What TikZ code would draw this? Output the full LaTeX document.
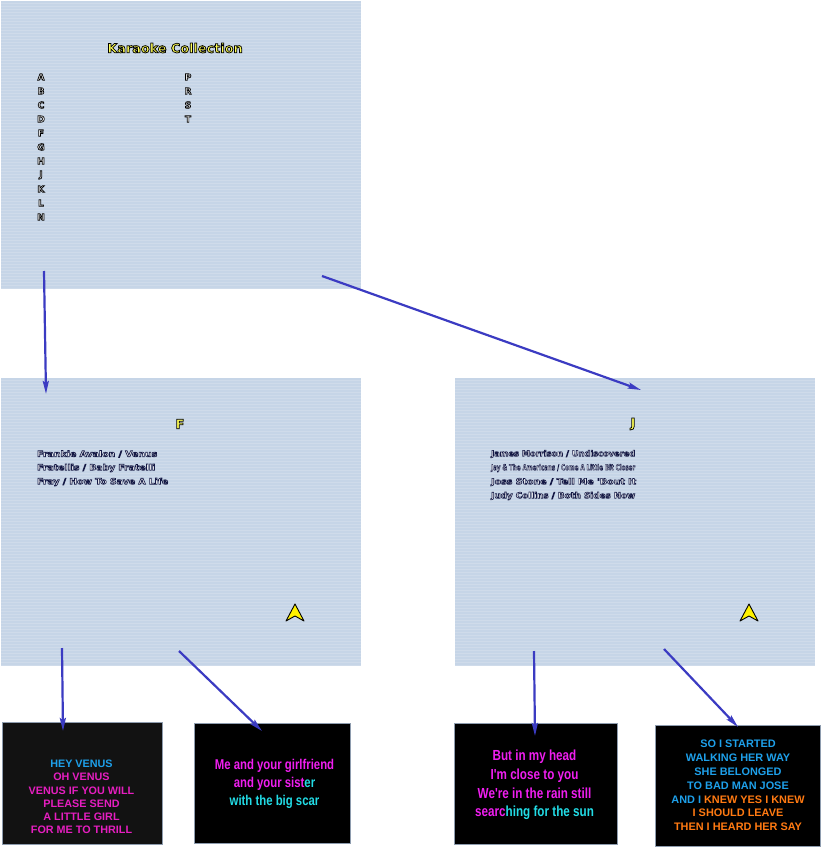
\documentclass[tikz,border=0pt]{standalone}
\usepackage{fontspec}
\usepackage{graphicx}
\usetikzlibrary{arrows.meta}
\newfontfamily\verd{DejaVu Sans}
\newfontfamily\arl{Liberation Sans}
\newfontfamily\narr{Liberation Sans}[FakeStretch=0.8]
\definecolor{panelc}{HTML}{C6D5E7}
\definecolor{arrowc}{HTML}{3B3BC2}
\definecolor{ttlyel}{HTML}{FFFF55}
\definecolor{lyblue}{HTML}{1EA0EA}
\definecolor{lymag}{HTML}{E61EC0}
\definecolor{lymagb}{HTML}{F01EF0}
\definecolor{lycyan}{HTML}{22DCE6}
\definecolor{lyorange}{HTML}{FF7A12}
\definecolor{boxedge}{HTML}{8E9CAE}
\definecolor{chevy}{HTML}{FFF200}
% outlined text: #1 stroke rgb, #2 stroke width, #3 fill colour, #4 text
\newcommand\outl[4]{{\color{#3}\special{pdf:literal direct 2 Tr #2 w #1 RG}#4\special{pdf:literal direct 0 Tr}}}
\newcommand\fitw[2]{\resizebox{#1}{\height}{#2}}
\begin{document}
\begin{tikzpicture}[x=1pt,y=-1pt,
  panelbox/.style={fill=panelc, inner sep=0pt, anchor=north west, minimum width=360pt, minimum height=288pt},
  lyrbox/.style={fill=black, draw=boxedge, line width=1.4pt, inner sep=0pt, anchor=north west},
  conn/.style={draw=arrowc, line width=2.2pt, -{Stealth[length=13pt,width=6pt,inset=2pt]}},
  ttl/.style={inner sep=0pt, font=\verd\bfseries\fontsize{12.8}{14}\selectfont},
  letter/.style={inner sep=0pt, font=\verd\bfseries\fontsize{9}{11}\selectfont},
  song/.style={inner sep=0pt, anchor=west, font=\verd\bfseries\fontsize{8.2}{9}\selectfont},
  lyrA/.style={inner sep=0pt, align=center, font=\arl\bfseries\fontsize{10.8}{13.3}\selectfont},
  lyrB/.style={inner sep=0pt, align=center, font=\narr\bfseries\fontsize{14.2}{18}\selectfont},
  lyrC/.style={inner sep=0pt, align=center, font=\narr\bfseries\fontsize{14.6}{18.7}\selectfont},
  lyrD/.style={inner sep=0pt, align=center, font=\arl\bfseries\fontsize{10.9}{13.8}\selectfont},
  chev/.style={fill=chevy, draw=black, line width=0.9pt, line join=round}
]
\useasboundingbox (0,0) rectangle (821,848);
\fill[white] (0,0) rectangle (821,848);

% panels
\node[panelbox] (top) at (1,1) {};
\node[panelbox] (pf) at (1,378) {};
\node[panelbox] (pj) at (455,378) {};
\foreach \px/\py in {1/1,1/378,455/378}{
  \foreach \k in {2,5,...,287}{
    \draw[white, opacity=0.16, line width=0.6pt] (\px,\py+\k) -- (\px+360,\py+\k);
  }
}

% lyric boxes
\node[lyrbox, fill=black!93, minimum width=160pt, minimum height=122pt] (b1) at (1.5,722) {};
\node[lyrbox, minimum width=156pt, minimum height=120pt] (b2) at (194,723) {};
\node[lyrbox, minimum width=163pt, minimum height=121pt] (b3) at (453.5,723) {};
\node[lyrbox, minimum width=165pt, minimum height=121pt] (b4) at (654.5,725) {};

% top panel text
\node[ttl] (title) at (175,48) {\outl{0 0 0}{0.75}{ttlyel}{Karaoke Collection}};
\foreach \l/\yy in {A/77,B/91,C/105,D/119,F/133,G/147,H/161,J/175,K/189,L/203,N/217}{
  \node[letter] (let\l) at (41,\yy) {\outl{0 0 0}{0.7}{white}{\l}};
}
\foreach \l/\yy in {P/77,R/91,S/105,T/119}{
  \node[letter] (let\l) at (188,\yy) {\outl{0 0 0}{0.7}{white}{\l}};
}

% F panel
\node[ttl] (capF) at (180,424) {\outl{0 0 0}{0.75}{ttlyel}{F}};
\node[song] (f1) at (37,454) {\fitw{120pt}{\outl{0.08 0.1 0.27}{0.6}{white}{Frankie Avalon / Venus}}};
\node[song] (f2) at (37,468) {\fitw{118pt}{\outl{0.08 0.1 0.27}{0.6}{white}{Fratellis / Baby Fratelli}}};
\node[song] (f3) at (37,482) {\fitw{131pt}{\outl{0.08 0.1 0.27}{0.6}{white}{Fray / How To Save A Life}}};
\draw[chev] (295,604) -- (304,621) -- (295,616) -- (286,621) -- cycle;

% J panel
\node[ttl] (capJ) at (633,424) {\outl{0 0 0}{0.75}{ttlyel}{J}};
\node[song] (j1) at (491,454) {\fitw{144pt}{\outl{0.08 0.1 0.27}{0.6}{white}{James Morrison / Undiscovered}}};
\node[song] (j2) at (491,468) {\fitw{144pt}{\outl{0.08 0.1 0.27}{0.5}{white}{Jay \& The Americans / Come A Little Bit Closer}}};
\node[song] (j3) at (491,482) {\fitw{145pt}{\outl{0.08 0.1 0.27}{0.6}{white}{Joss Stone / Tell Me 'Bout It}}};
\node[song] (j4) at (491,496) {\fitw{144pt}{\outl{0.08 0.1 0.27}{0.6}{white}{Judy Collins / Both Sides Now}}};
\draw[chev] (749,604) -- (758,621) -- (749,616) -- (740,621) -- cycle;

% lyrics
\node[lyrA] (l1) at (81.5,797) {\textcolor{lyblue}{HEY VENUS}\\ \textcolor{lymag}{OH VENUS}\\ \textcolor{lymag}{VENUS IF YOU WILL}\\ \textcolor{lymag}{PLEASE SEND}\\ \textcolor{lymag}{A LITTLE GIRL}\\ \textcolor{lymag}{FOR ME TO THRILL}};
\node[lyrB] (l2) at (274.5,784) {\textcolor{lymagb}{Me and your girlfriend}\\ \textcolor{lymagb}{and your sist}\textcolor{lycyan}{er}\\ \textcolor{lycyan}{with the big scar}};
\node[lyrC] (l3) at (534.5,785) {\textcolor{lymagb}{But in my head}\\ \textcolor{lymagb}{I'm close to you}\\ \textcolor{lymagb}{We're in the rain still}\\ \textcolor{lymagb}{searc}\textcolor{lycyan}{hing for the sun}};
\node[lyrD] (l4) at (738,785.5) {\textcolor{lyblue}{SO I STARTED}\\ \textcolor{lyblue}{WALKING HER WAY}\\ \textcolor{lyblue}{SHE BELONGED}\\ \textcolor{lyblue}{TO BAD MAN JOSE}\\ \textcolor{lyblue}{AND I }\textcolor{lyorange}{KNEW YES I KNEW}\\ \textcolor{lyorange}{I SHOULD LEAVE}\\ \textcolor{lyorange}{THEN I HEARD HER SAY}};

% connectors
\coordinate (s1) at (44,271);   \coordinate (e1) at (46,394);
\coordinate (s2) at (322,276);  \coordinate (e2) at (641,390);
\coordinate (s3) at (62,648);   \coordinate (e3) at (63,731);
\coordinate (s4) at (179,651);  \coordinate (e4) at (262,731);
\coordinate (s5) at (534,651);  \coordinate (e5) at (535,736);
\coordinate (s6) at (664,649);  \coordinate (e6) at (738,727);
\foreach \i in {1,...,6}{ \draw[conn] (s\i) -- (e\i); }
\end{tikzpicture}
\end{document}
